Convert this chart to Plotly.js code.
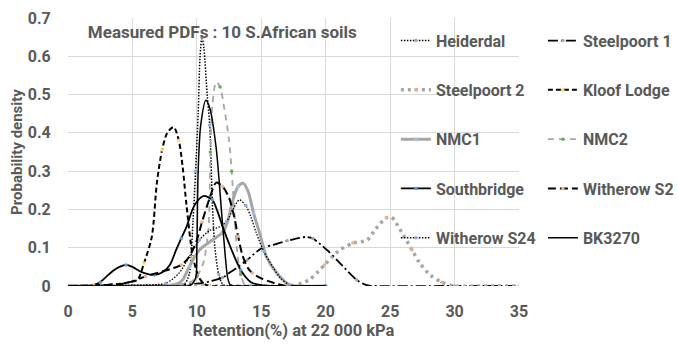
<!DOCTYPE html>
<html>
<head>
<meta charset="utf-8">
<script src="https://cdn.plot.ly/plotly-3.0.1.min.js"></script>
<style>
  html, body { margin: 0; padding: 0; background: #ffffff; }
  #chart { width: 678px; height: 344px; }
</style>
</head>
<body>
<div id="chart"></div>
<script>
// Measured probability density functions of retention at 22 000 kPa, ten soils
const heiderdalX = [0, 5, 8, 9, 9.4, 9.7, 9.9, 10.1, 10.25, 10.4, 10.55, 10.8, 11.0, 11.2, 11.4, 11.7, 12.0, 12.5, 14, 20];
const heiderdalY = [0, 0, 0, 0.004, 0.03, 0.17, 0.3, 0.45, 0.6, 0.65, 0.62, 0.5, 0.42, 0.22, 0.1, 0.03, 0.005, 0, 0, 0];

const steelpoort1X = [0, 5, 8, 10, 11, 12, 12.5, 13, 13.9, 15, 16, 17, 18, 18.5, 19, 20.1, 21.1, 22.4, 23.2, 24, 30, 35];
const steelpoort1Y = [0, 0, 0.002, 0.006, 0.012, 0.022, 0.034, 0.045, 0.068, 0.098, 0.108, 0.118, 0.126, 0.128, 0.124, 0.094, 0.06, 0.016, 0.002, 0, 0, 0];

const steelpoort2X = [0, 5, 10, 15, 17.4, 18.7, 19.4, 19.9, 20.5, 21.1, 22.1, 23.2, 23.9, 24.7, 25.1, 25.9, 26.7, 27.3, 28.1, 29, 30, 32, 35];
const steelpoort2Y = [0, 0, 0, 0, 0, 0.016, 0.037, 0.055, 0.076, 0.094, 0.112, 0.12, 0.15, 0.178, 0.18, 0.14, 0.094, 0.06, 0.029, 0.01, 0, 0, 0];

const kloofLodgeX = [0, 2, 3, 4, 4.8, 5.4, 5.9, 6.5, 6.9, 7.3, 7.7, 8.2, 8.6, 8.9, 9.2, 9.7, 10.2, 10.6, 11, 13, 20];
const kloofLodgeY = [0, 0, 0.003, 0.006, 0.01, 0.016, 0.06, 0.128, 0.27, 0.355, 0.4, 0.415, 0.38, 0.31, 0.21, 0.075, 0.02, 0.005, 0, 0, 0];

const nmc1X = [0, 5, 8, 8.5, 8.9, 9.4, 10.2, 11.2, 12.0, 12.4, 12.8, 13.2, 13.6, 14.0, 14.4, 14.9, 15.4, 16.2, 17.2, 18, 20];
const nmc1Y = [0, 0, 0.002, 0.006, 0.016, 0.05, 0.094, 0.12, 0.14, 0.17, 0.225, 0.26, 0.268, 0.245, 0.19, 0.135, 0.076, 0.034, 0.003, 0, 0];

const nmc2X = [0, 5, 8.5, 9.5, 10.0, 10.5, 10.9, 11.05, 11.2, 11.5, 11.8, 12.1, 12.5, 12.7, 12.9, 13.1, 13.4, 13.8, 15, 20];
const nmc2Y = [0, 0, 0.003, 0.01, 0.025, 0.06, 0.15, 0.35, 0.47, 0.533, 0.52, 0.47, 0.38, 0.3, 0.2, 0.1, 0.03, 0, 0, 0];

const southbridgeX = [0, 1.5, 2, 2.5, 3, 3.5, 4, 4.5, 5, 5.5, 6, 6.7, 7.3, 7.9, 8.4, 8.8, 9.2, 9.8, 10.5, 11.2, 11.6, 12, 12.7, 13.4, 14.2, 15, 16, 20];
const southbridgeY = [0, 0, 0.003, 0.01, 0.025, 0.04, 0.05, 0.055, 0.05, 0.04, 0.033, 0.029, 0.035, 0.055, 0.095, 0.125, 0.155, 0.21, 0.235, 0.225, 0.195, 0.155, 0.094, 0.042, 0.01, 0.002, 0, 0];

const witherowS2X = [0, 2, 4, 5, 6, 7, 8, 8.8, 9.4, 10, 10.4, 11, 11.5, 12, 12.5, 12.9, 13.2, 13.5, 13.9, 14.3, 15, 16, 17, 20];
const witherowS2Y = [0, 0.002, 0.005, 0.012, 0.025, 0.035, 0.045, 0.055, 0.076, 0.12, 0.167, 0.23, 0.27, 0.26, 0.23, 0.18, 0.13, 0.085, 0.05, 0.034, 0.02, 0.008, 0, 0];

const witherowS24X = [0, 5, 7, 7.6, 8.6, 9.4, 10.2, 11, 11.8, 12.3, 12.8, 13.3, 13.8, 14.2, 14.6, 15.2, 15.9, 16.5, 17.2, 18, 20];
const witherowS24Y = [0, 0.002, 0.004, 0.007, 0.033, 0.076, 0.12, 0.145, 0.155, 0.168, 0.2, 0.225, 0.21, 0.18, 0.14, 0.09, 0.05, 0.02, 0.003, 0, 0];

const bk3270X = [0, 5, 8, 9.5, 9.9, 10.0, 10.1, 10.3, 10.7, 11.0, 11.5, 11.9, 12.2, 12.4, 12.6, 13, 20];
const bk3270Y = [0, 0, 0, 0.002, 0.02, 0.1, 0.3, 0.42, 0.485, 0.465, 0.36, 0.2, 0.08, 0.02, 0.003, 0, 0];

const seriesNames = ['Heiderdal', 'Steelpoort 1', 'Steelpoort 2', 'Kloof Lodge', 'NMC1',
                     'NMC2', 'Southbridge', 'Witherow S2', 'Witherow S24', 'BK3270'];

const xTickVals = [0, 5, 10, 15, 20, 25, 30, 35];
const yTickVals = [0, 0.1, 0.2, 0.3, 0.4, 0.5, 0.6, 0.7];

const TEXT = '#595959';
const FONT = 'Roboto, "Open Sans", sans-serif';

function curve(name, xs, ys, line, markerColor, legendId) {
  const t = {
    type: 'scatter',
    name: name,
    x: xs,
    y: ys,
    mode: markerColor ? 'lines+markers' : 'lines',
    line: Object.assign({ shape: 'spline', smoothing: 0.8 }, line),
    legend: legendId,
    legendgroup: name,
    hoverinfo: 'x+y+name'
  };
  // sparse small markers at a subset of the measured points
  if (markerColor) t.marker = { size: 3.5, color: markerColor, line: { width: 0 }, maxdisplayed: 9 };
  return t;
}

const traces = [
  curve(seriesNames[0], heiderdalX, heiderdalY, { color: '#000000', width: 1.5, dash: '1.5px,1.5px' }, '#8faadc', 'legend'),
  curve(seriesNames[1], steelpoort1X, steelpoort1Y, { color: '#000000', width: 1.8, dash: '10px,3px,2px,3px' }, '#a5a5a5', 'legend2'),
  curve(seriesNames[2], steelpoort2X, steelpoort2Y, { color: '#a6a6a6', width: 3.5, dash: '3px,4px' }, '#f4b183', 'legend'),
  curve(seriesNames[3], kloofLodgeX, kloofLodgeY, { color: '#000000', width: 2, dash: '5px,3px' }, '#ffd966', 'legend2'),
  curve(seriesNames[4], nmc1X, nmc1Y, { color: '#a6a6a6', width: 3 }, '#9dc3e6', 'legend'),
  curve(seriesNames[5], nmc2X, nmc2Y, { color: '#a6a6a6', width: 1.8, dash: '6px,5px' }, '#70ad47', 'legend2'),
  curve(seriesNames[6], southbridgeX, southbridgeY, { color: '#000000', width: 1.8 }, '#5b9bd5', 'legend'),
  curve(seriesNames[7], witherowS2X, witherowS2Y, { color: '#000000', width: 2, dash: '8px,4px' }, '#f4b183', 'legend2'),
  curve(seriesNames[8], witherowS24X, witherowS24Y, { color: '#000000', width: 1.3, dash: '1.5px,1.5px' }, '#8faadc', 'legend'),
  curve(seriesNames[9], bk3270X, bk3270Y, { color: '#000000', width: 1.5 }, null, 'legend2')
];

const legendBase = {
  yref: 'paper',
  y: 0.979,
  yanchor: 'top',
  xanchor: 'left',
  orientation: 'v',
  bgcolor: 'rgba(0,0,0,0)',
  borderwidth: 0,
  tracegroupgap: 25.5,
  font: { family: FONT, size: 16, color: TEXT, weight: 'bold' }
};

const layout = {
  width: 678,
  height: 344,
  paper_bgcolor: '#ffffff',
  plot_bgcolor: '#ffffff',
  margin: { l: 68, r: 159, t: 18, b: 58, autoexpand: false },
  font: { family: FONT, color: TEXT },
  title: {
    text: 'Measured PDFs : 10 S.African soils',
    font: { family: FONT, size: 17, color: TEXT, weight: 'bold' },
    xref: 'paper', x: 0.044, xanchor: 'left',
    yref: 'container', y: 1 - 32 / 344, yanchor: 'middle'
  },
  xaxis: {
    range: [0, 35],
    tickvals: xTickVals,
    ticktext: xTickVals.map(String),
    showgrid: true, gridcolor: '#d9d9d9', gridwidth: 1,
    zeroline: false, showline: false,
    ticks: 'outside', ticklen: 11, tickcolor: 'rgba(0,0,0,0)',
    tickfont: { family: FONT, size: 16, color: TEXT, weight: 'bold' },
    title: { text: 'Retention(%) at 22 000 kPa', font: { family: FONT, size: 16.5, color: TEXT, weight: 'bold' }, standoff: 3 },
    automargin: false,
    fixedrange: true
  },
  yaxis: {
    range: [0, 0.7],
    tickvals: yTickVals,
    ticktext: ['0', '0.1', '0.2', '0.3', '0.4', '0.5', '0.6', '0.7'],
    showgrid: true, gridcolor: '#d9d9d9', gridwidth: 1,
    zeroline: false, showline: false,
    ticks: 'outside', ticklen: 13, tickcolor: 'rgba(0,0,0,0)',
    tickfont: { family: FONT, size: 16, color: TEXT, weight: 'bold' },
    title: { text: 'Probability density', font: { family: FONT, size: 15, color: TEXT, weight: 'bold' }, standoff: 1 },
    automargin: false,
    fixedrange: true
  },
  legend: Object.assign({}, legendBase, { x: 0.727 }),
  legend2: Object.assign({}, legendBase, { x: 1.053 }),
  showlegend: true
};

Plotly.newPlot('chart', traces, layout, { displayModeBar: false, staticPlot: true });
</script>
</body>
</html>
